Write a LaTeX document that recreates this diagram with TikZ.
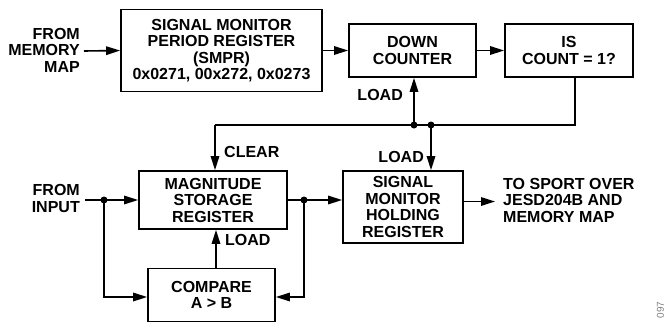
\documentclass[tikz,border=0pt]{standalone}
\usepackage{fontspec}
\setmainfont{Liberation Sans}
\usetikzlibrary{arrows.meta,calc}
\begin{document}
\begin{tikzpicture}[x=1pt,y=-1pt,
  every node/.style={font=\fontsize{16}{16.5}\selectfont\bfseries},
  box/.style={draw, line width=1.8pt, align=center, inner sep=0pt},
  lbl/.style={inner sep=0pt, align=center},
  wire/.style={line width=1.6pt},
  arr/.style={wire, -{Triangle[length=14pt,width=8.5pt]}},
  dot/.style={circle, fill=black, inner sep=0pt, minimum size=7pt}]
\useasboundingbox (0,0) rectangle (668,322);
% boxes
\node[box, minimum width=201pt, minimum height=82pt] (smpr) at (221.5,50.5) {SIGNAL MONITOR\\PERIOD REGISTER\\(SMPR)\\0x0271, 00x272, 0x0273};
\node[box, minimum width=127pt, minimum height=53pt] (down) at (412.5,50.5) {DOWN\\COUNTER};
\node[box, minimum width=128pt, minimum height=53pt] (iscnt) at (569,50.5) {IS\\COUNT = 1?};
\node[box, minimum width=148pt, minimum height=58pt] (msr) at (213,200) {MAGNITUDE\\STORAGE\\REGISTER};
\node[box, minimum width=120pt, minimum height=72pt] (smhr) at (403,207) {SIGNAL\\MONITOR\\HOLDING\\REGISTER};
\node[box, minimum width=127pt, minimum height=53pt] (cmp) at (211.5,295) {COMPARE\\A > B};
% texts
\node[lbl, align=right, anchor=east] (fmm) at (80,50) {FROM\\MEMORY\\MAP};
\node[lbl, align=right, anchor=east] (fin) at (80,198.5) {FROM\\INPUT};
\node[lbl, align=left, anchor=west] (tosp) at (503,200) {TO SPORT OVER\\JESD204B AND\\MEMORY MAP};
\node[lbl, anchor=east] (ld1) at (403,95) {LOAD};
\node[lbl, anchor=east] (ld2) at (424,157) {LOAD};
\node[lbl, anchor=west] (clr) at (224,152) {CLEAR};
\node[lbl, anchor=west] (ld3) at (225,240) {LOAD};
\node[inner sep=0pt, rotate=90, text=gray, font=\fontsize{10}{10}\selectfont] (fig) at (660.5,310) {097};
% coordinates
\coordinate (isb) at (575,77);
\coordinate (busr) at (575,125);
\coordinate (busl) at (215,125);
\node[dot] (d1) at (414,125) {};
\node[dot] (d2) at (431,125) {};
\node[dot] (d3) at (104,200) {};
\node[dot] (d4) at (304,200) {};
\coordinate (y297) at (0,297);
% connectors
\draw[arr] (fmm.east) ++(4,1) -- (smpr.west);
\draw[arr] (smpr.east) -- (down.west);
\draw[arr] (down.east) -- (iscnt.west);
\draw[wire] (isb) -- (busr) -- (busl);
\draw[arr] (busl) -- (busl |- msr.north);
\draw[arr] (d1.center) -- (d1 |- down.south);
\draw[arr] (d2.center) -- (d2 |- smhr.north);
\draw[wire] ($(fin.east)+(5,1.5)$) -- (d3.center);
\draw[arr] (d3.center) -- (msr.west |- d3);
\draw[arr] (d3.center) |- (cmp.west |- y297);
\draw[wire] (msr.east |- d4) -- (d4.center);
\draw[arr] (d4.center) -- (smhr.west |- d4);
\draw[arr] (d4.center) |- (cmp.east |- y297);
\draw[arr] (cmp.north -| 216,0) -- (msr.south -| 216,0);
\draw[arr] (smhr.east |- 0,201.5) -- (495,201.5);
\end{tikzpicture}
\end{document}
